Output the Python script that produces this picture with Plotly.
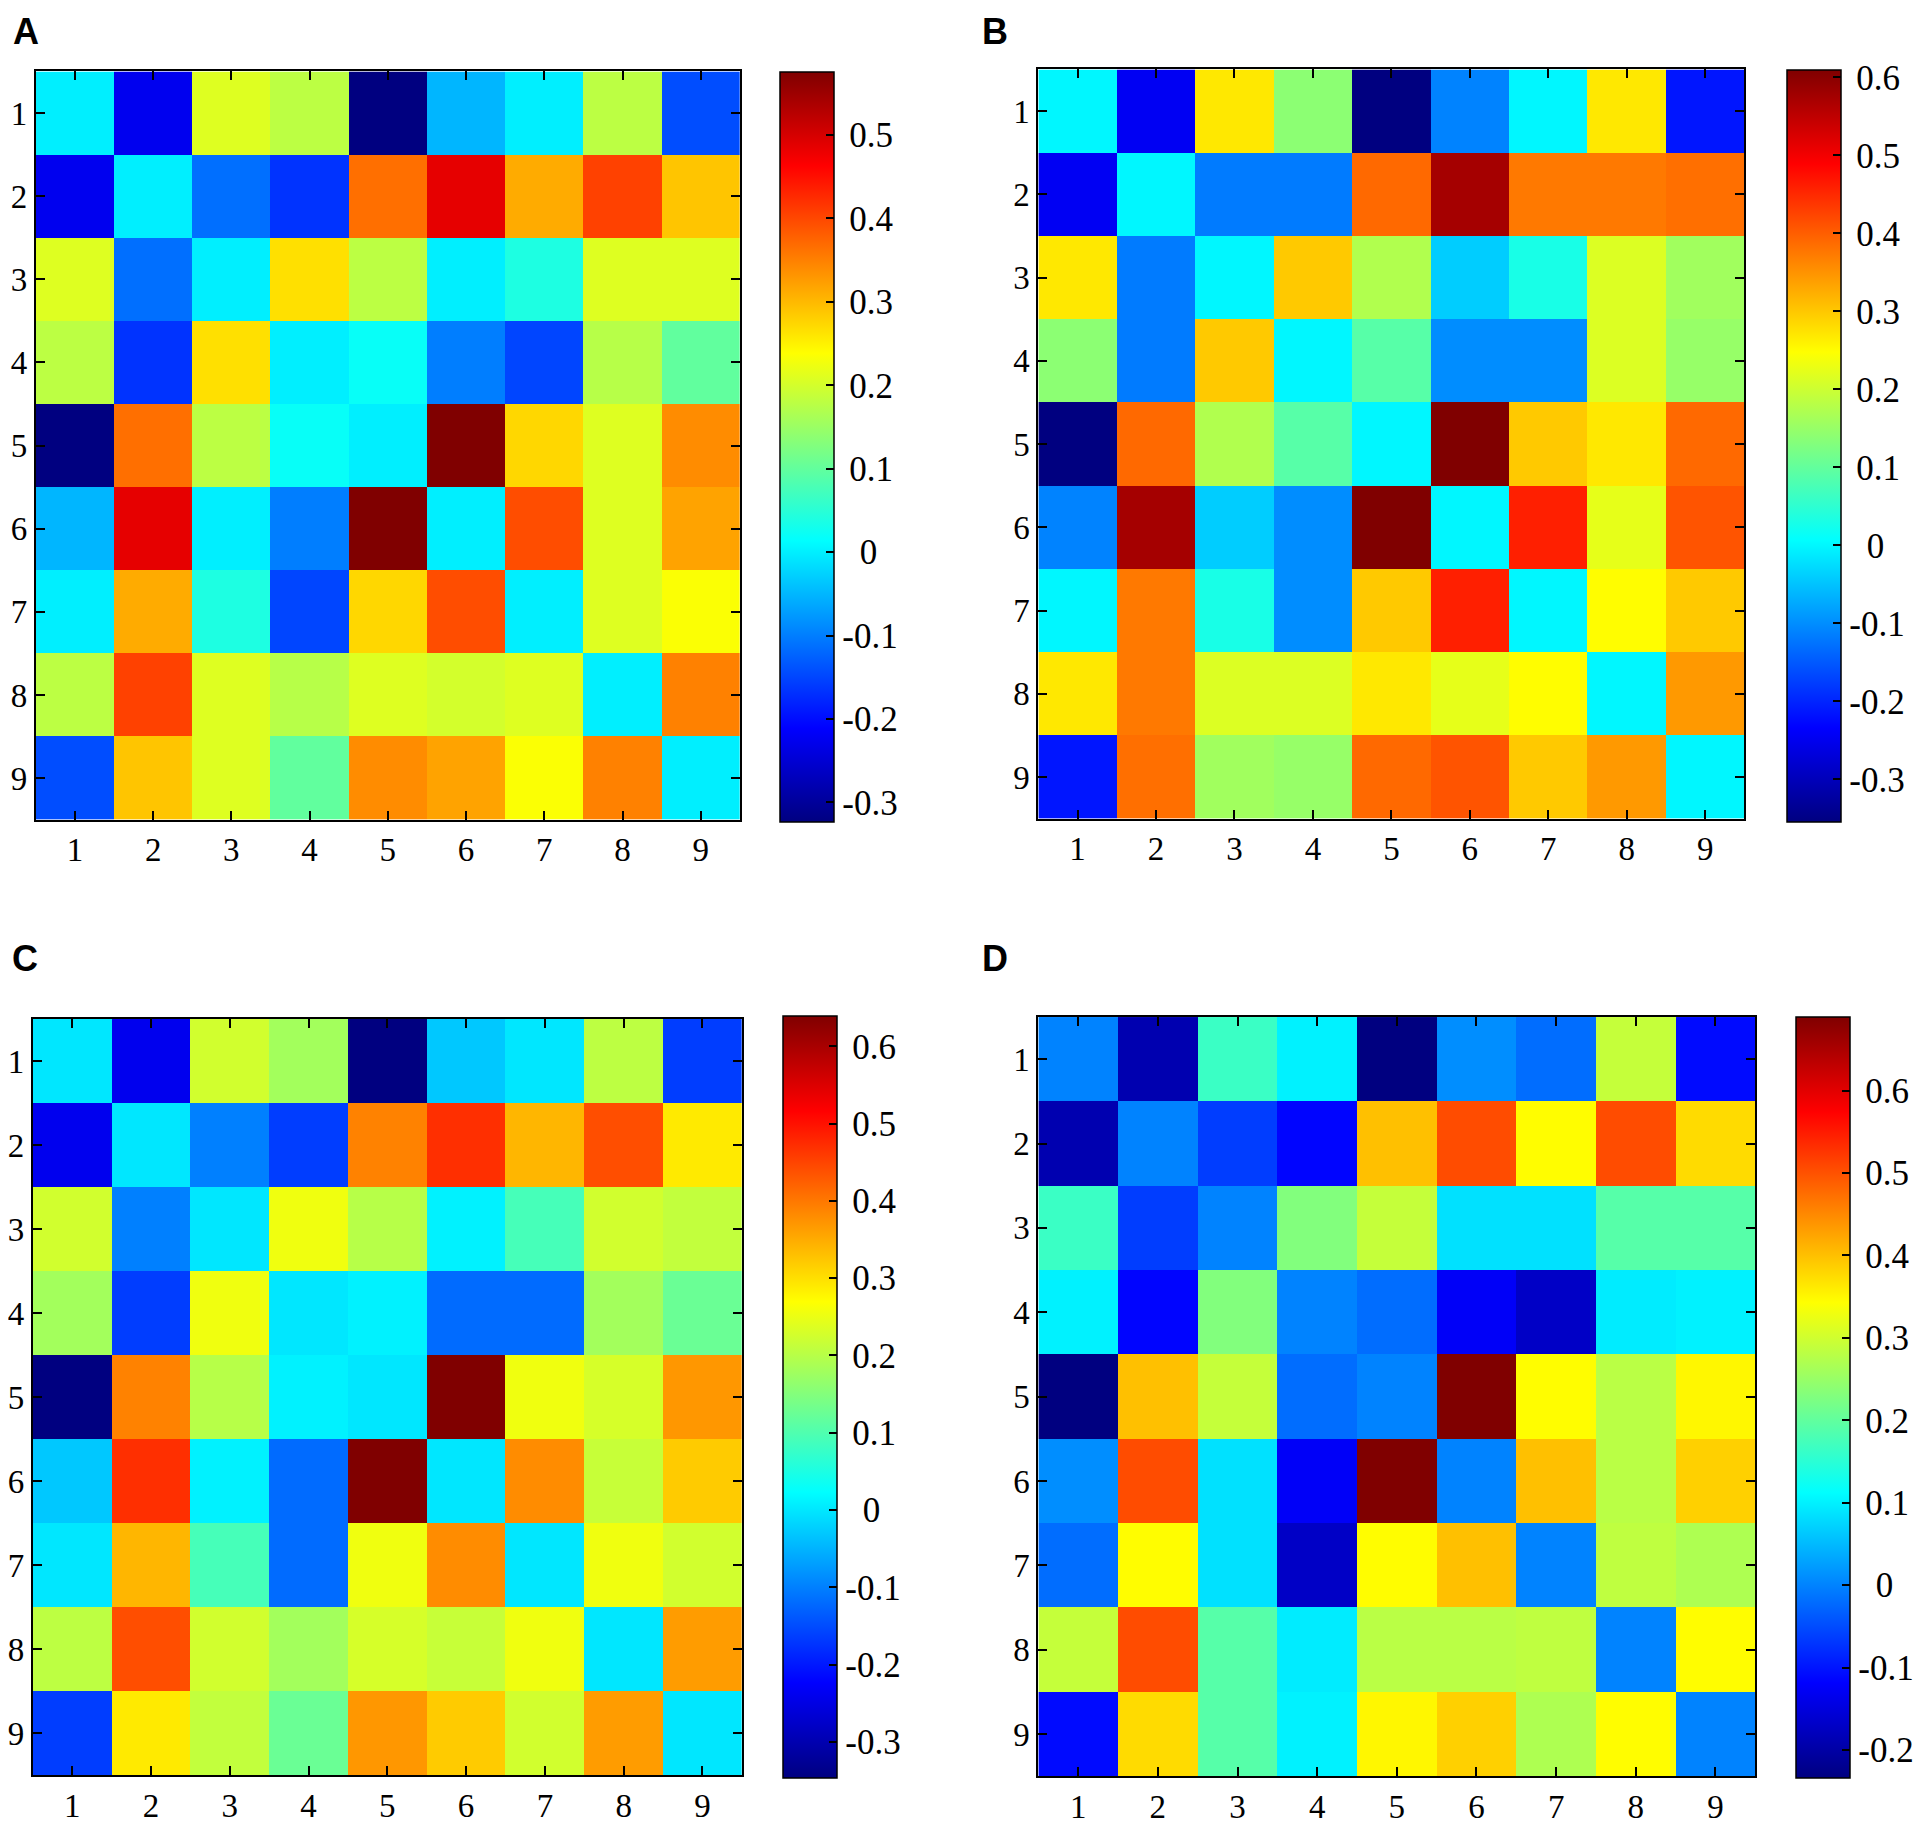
import plotly.graph_objects as go

labels = [1, 2, 3, 4, 5, 6, 7, 8, 9]

A = [
    [0.0, -0.225, 0.21, 0.18, -0.323, -0.05, 0.0, 0.18, -0.143],
    [-0.225, 0.0, -0.113, -0.166, 0.366, 0.486, 0.313, 0.406, 0.29],
    [0.21, -0.113, 0.0, 0.266, 0.18, 0.0, 0.04, 0.21, 0.21],
    [0.18, -0.166, 0.266, 0.0, 0.02, -0.1, -0.15, 0.175, 0.10],
    [-0.323, 0.366, 0.18, 0.02, 0.0, 0.576, 0.274, 0.21, 0.34],
    [-0.05, 0.486, 0.0, -0.1, 0.576, 0.0, 0.396, 0.21, 0.32],
    [0.0, 0.313, 0.04, -0.15, 0.274, 0.396, 0.0, 0.21, 0.235],
    [0.18, 0.406, 0.21, 0.175, 0.21, 0.2, 0.21, 0.0, 0.35],
    [-0.143, 0.29, 0.21, 0.10, 0.34, 0.32, 0.235, 0.35, 0.0],
]

B = [
    [0.0, -0.245, 0.27, 0.14, -0.354, -0.11, 0.0, 0.27, -0.214],
    [-0.245, 0.0, -0.117, -0.117, 0.39, 0.575, 0.375, 0.375, 0.385],
    [0.27, -0.117, 0.0, 0.30, 0.175, -0.04, 0.03, 0.215, 0.16],
    [0.14, -0.117, 0.30, 0.0, 0.09, -0.1, -0.1, 0.215, 0.15],
    [-0.354, 0.39, 0.175, 0.09, 0.0, 0.61, 0.30, 0.27, 0.39],
    [-0.11, 0.575, -0.04, -0.1, 0.61, 0.0, 0.46, 0.225, 0.41],
    [0.0, 0.375, 0.03, -0.1, 0.30, 0.46, 0.0, 0.25, 0.30],
    [0.27, 0.375, 0.215, 0.215, 0.27, 0.225, 0.25, 0.0, 0.345],
    [-0.214, 0.385, 0.16, 0.15, 0.39, 0.41, 0.30, 0.345, 0.0],
]

C = [
    [0.0, -0.24, 0.225, 0.18, -0.347, -0.03, 0.0, 0.205, -0.165],
    [-0.24, 0.0, -0.1, -0.165, 0.39, 0.47, 0.34, 0.44, 0.29],
    [0.225, -0.1, 0.0, 0.255, 0.2, 0.01, 0.09, 0.225, 0.21],
    [0.18, -0.165, 0.255, 0.0, 0.01, -0.12, -0.12, 0.18, 0.125],
    [-0.347, 0.39, 0.2, 0.01, 0.0, 0.639, 0.255, 0.23, 0.37],
    [-0.03, 0.47, 0.01, -0.12, 0.639, 0.0, 0.38, 0.215, 0.32],
    [0.0, 0.34, 0.09, -0.12, 0.255, 0.38, 0.0, 0.255, 0.225],
    [0.205, 0.44, 0.225, 0.18, 0.23, 0.215, 0.255, 0.0, 0.365],
    [-0.165, 0.29, 0.21, 0.125, 0.37, 0.32, 0.225, 0.365, 0.0],
]

D = [
    [0.0, -0.19, 0.165, 0.10, -0.234, 0.01, -0.02, 0.29, -0.11],
    [-0.19, 0.0, -0.063, -0.115, 0.40, 0.505, 0.345, 0.505, 0.375],
    [0.165, -0.063, 0.0, 0.23, 0.29, 0.085, 0.085, 0.19, 0.19],
    [0.10, -0.115, 0.23, 0.0, -0.02, -0.125, -0.17, 0.095, 0.10],
    [-0.234, 0.40, 0.29, -0.02, 0.0, 0.689, 0.345, 0.28, 0.35],
    [0.01, 0.505, 0.085, -0.125, 0.689, 0.0, 0.40, 0.28, 0.385],
    [-0.02, 0.345, 0.085, -0.17, 0.345, 0.40, 0.0, 0.285, 0.27],
    [0.29, 0.505, 0.19, 0.095, 0.28, 0.28, 0.285, 0.0, 0.345],
    [-0.11, 0.375, 0.19, 0.10, 0.35, 0.385, 0.27, 0.345, 0.0],
]

ticks_A = [-0.3, -0.2, -0.1, 0, 0.1, 0.2, 0.3, 0.4, 0.5]
ticks_B = [-0.3, -0.2, -0.1, 0, 0.1, 0.2, 0.3, 0.4, 0.5, 0.6]
ticks_C = [-0.3, -0.2, -0.1, 0, 0.1, 0.2, 0.3, 0.4, 0.5, 0.6]
ticks_D = [-0.2, -0.1, 0, 0.1, 0.2, 0.3, 0.4, 0.5, 0.6]

# matlab jet
jet = [
    [0.0, "rgb(0,0,128)"],
    [0.125, "rgb(0,0,255)"],
    [0.375, "rgb(0,255,255)"],
    [0.625, "rgb(255,255,0)"],
    [0.875, "rgb(255,0,0)"],
    [1.0, "rgb(128,0,0)"],
]

# page has an 8px body margin, so the figure is a bit smaller than the window
PAD = 8
W, H = 1931 - 2 * PAD, 1833 - 2 * PAD
serif = "Liberation Serif, Times New Roman, serif"
axis_font = dict(family=serif, size=33, color="black")
cbar_font = dict(family=serif, size=35, color="black")


def tick_text(vals):
    out = []
    for v in vals:
        if v == 0:
            out.append("\u2002" + "0")
        elif v > 0:
            out.append("\u2009" + "%g" % v)
        else:
            out.append("%g" % v)
    return out


def px(x):
    return (x - PAD) / W


def py(y):
    return 1 - (y - PAD) / H


# name, data, ticks, heatmap box (left, right, top, bottom), colorbar box (left, top, bottom), letter pos
panels = [
    ("A", A, ticks_A, (32, 742, 72, 827), (782, 72, 829), (8, 32)),
    ("B", B, ticks_B, (1043, 1755, 70, 826), (1798, 70, 829), (985, 32)),
    ("C", C, ticks_C, (29, 744, 1028, 1791), (786, 1025, 1794), (7, 967)),
    ("D", D, ticks_D, (1043, 1766, 1026, 1792), (1807, 1026, 1794), (985, 967)),
]

fig = go.Figure()
layout = {}
for i, (name, z, cticks, box, cbox, pos) in enumerate(panels):
    n = "" if i == 0 else str(i + 1)
    left, right, top, bottom = box
    cl, ct, cb = cbox
    fig.add_trace(go.Heatmap(
        z=z, x=labels, y=labels, colorscale=jet, xaxis="x" + n, yaxis="y" + n,
        colorbar=dict(
            x=px(cl), xanchor="left", y=(py(ct) + py(cb)) / 2, yanchor="middle",
            len=(cb - ct) / H, thickness=54, xpad=0, ypad=0,
            outlinecolor="black", outlinewidth=1.5,
            tickvals=cticks, ticktext=tick_text(cticks),
            ticks="inside", ticklen=8, tickcolor="black", tickwidth=1.5,
            tickfont=cbar_font,
        ),
    ))
    axis = dict(showline=True, linecolor="black", linewidth=2, mirror="ticks",
                ticks="inside", ticklen=9, tickwidth=1.5, tickcolor="black",
                tickvals=labels, tickfont=axis_font, showgrid=False, zeroline=False)
    layout["xaxis" + n] = dict(axis, domain=[px(left), px(right)], anchor="y" + n,
                               range=[0.5, 9.5])
    layout["yaxis" + n] = dict(axis, domain=[py(bottom), py(top)], anchor="x" + n,
                               range=[9.5, 0.5])
    fig.add_annotation(text="<b>%s</b>" % name, x=px(pos[0]), y=py(pos[1]),
                       xref="paper", yref="paper", xanchor="left", yanchor="middle",
                       showarrow=False, borderpad=0,
                       font=dict(family="Liberation Sans, Arial, sans-serif", size=36, color="black"))

fig.update_layout(width=W, height=H, margin=dict(l=0, r=0, t=0, b=0),
                  paper_bgcolor="white", plot_bgcolor="white", **layout)
fig.write_html("out.html")
